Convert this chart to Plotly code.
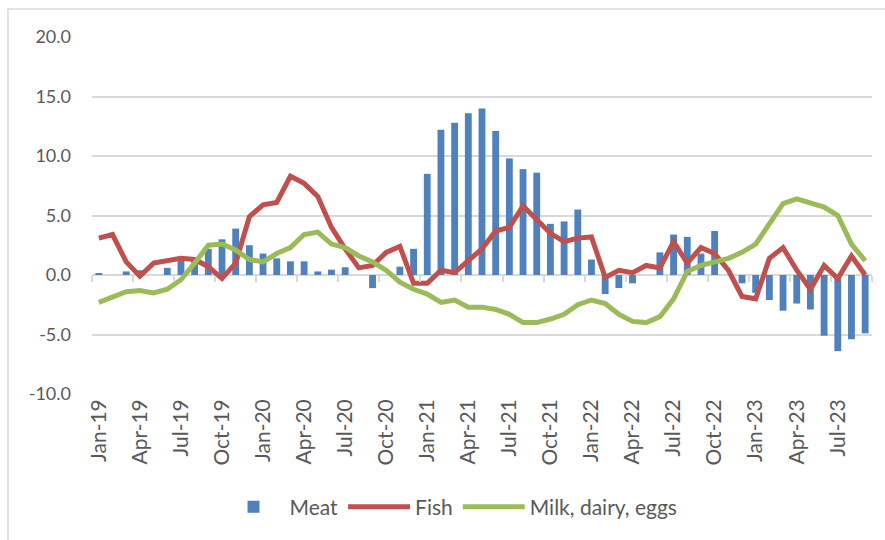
import plotly.graph_objects as go

months = [
    "Jan-19", "Feb-19", "Mar-19", "Apr-19", "May-19", "Jun-19", "Jul-19", "Aug-19", "Sep-19", "Oct-19", "Nov-19", "Dec-19",
    "Jan-20", "Feb-20", "Mar-20", "Apr-20", "May-20", "Jun-20", "Jul-20", "Aug-20", "Sep-20", "Oct-20", "Nov-20", "Dec-20",
    "Jan-21", "Feb-21", "Mar-21", "Apr-21", "May-21", "Jun-21", "Jul-21", "Aug-21", "Sep-21", "Oct-21", "Nov-21", "Dec-21",
    "Jan-22", "Feb-22", "Mar-22", "Apr-22", "May-22", "Jun-22", "Jul-22", "Aug-22", "Sep-22", "Oct-22", "Nov-22", "Dec-22",
    "Jan-23", "Feb-23", "Mar-23", "Apr-23", "May-23", "Jun-23", "Jul-23", "Aug-23", "Sep-23",
]

meat = [
    0.15, 0.0, 0.3, 0.4, 0.0, 0.6, 1.5, 1.5, 2.2, 3.0, 3.9, 2.5,
    1.8, 1.4, 1.15, 1.15, 0.3, 0.45, 0.65, 0.0, -1.1, 0.0, 0.7, 2.2,
    8.5, 12.2, 12.8, 13.6, 14.0, 12.1, 9.8, 8.9, 8.6, 4.3, 4.5, 5.5,
    1.3, -1.6, -1.1, -0.7, 0.0, 1.9, 3.4, 3.2, 1.8, 3.7, 0.0, -0.7,
    -1.5, -2.1, -3.0, -2.4, -2.9, -5.1, -6.4, -5.4, -4.9,
]

fish = [
    3.1, 3.4, 1.1, -0.1, 1.0, 1.2, 1.4, 1.3, 0.7, -0.3, 1.0, 4.9,
    5.9, 6.1, 8.3, 7.7, 6.6, 4.0, 2.2, 0.6, 0.8, 1.9, 2.4, -0.7,
    -0.7, 0.4, 0.2, 1.2, 2.2, 3.7, 4.0, 5.8, 4.6, 3.5, 2.8, 3.1,
    3.2, -0.2, 0.4, 0.2, 0.8, 0.6, 2.8, 1.0, 2.3, 1.8, 0.4, -1.8,
    -2.0, 1.4, 2.3, 0.4, -1.2, 0.8, -0.3, 1.6, 0.0,
]

milk = [
    -2.3, -1.9, -1.4, -1.3, -1.5, -1.2, -0.4, 1.0, 2.5, 2.6, 2.1, 1.3,
    1.1, 1.8, 2.3, 3.4, 3.6, 2.6, 2.3, 1.6, 1.1, 0.4, -0.6, -1.2,
    -1.6, -2.3, -2.1, -2.7, -2.7, -2.9, -3.3, -4.0, -4.0, -3.7, -3.3, -2.5,
    -2.1, -2.4, -3.3, -3.9, -4.0, -3.5, -2.0, 0.3, 0.8, 1.1, 1.4, 1.9,
    2.6, 4.3, 6.0, 6.4, 6.0, 5.7, 5.0, 2.6, 1.2,
]

y_tickvals = [-10, -5, 0, 5, 10, 15, 20]
y_ticktext = ["-10.0", "-5.0", "0.0", "5.0", "10.0", "15.0", "20.0"]

FONT = "Lato, 'Open Sans', sans-serif"
TXT = "#595959"
GRID = "#D9D9D9"

fig = go.Figure()
fig.add_trace(go.Bar(x=months, y=meat, name="Meat", marker_color="#4F81BD",
                     marker_line_width=0))
fig.add_trace(go.Scatter(x=months, y=fish, name="Fish", mode="lines",
                         line=dict(color="#C0504D", width=5)))
fig.add_trace(go.Scatter(x=months, y=milk, name="Milk, dairy, eggs", mode="lines",
                         line=dict(color="#9BBB59", width=5)))
# helper trace so the tick-mark axis on the zero line is drawn
fig.add_trace(go.Scatter(x=months, y=[None] * len(months), xaxis="x2", yaxis="y",
                         showlegend=False, hoverinfo="skip", mode="lines"))

fig.update_layout(
    width=885, height=540,
    margin=dict(l=92, r=13, t=37, b=146),
    paper_bgcolor="white", plot_bgcolor="white",
    font=dict(family=FONT, color=TXT, size=21),
    bargap=0.5,
    showlegend=True,
    legend=dict(orientation="h", x=0.459, xanchor="center", y=-0.317, yanchor="middle",
                font=dict(family=FONT, size=21, color=TXT), traceorder="normal",
                itemwidth=62),
    xaxis=dict(type="category", categoryorder="array", categoryarray=months,
               tickmode="linear", tick0=0, dtick=3, tickangle=-90,
               showgrid=False, ticks="", showline=False, zeroline=False,
               tickfont=dict(family=FONT, size=21, color=TXT)),
    xaxis2=dict(type="category", categoryorder="array", categoryarray=months,
                matches="x", overlaying="x", anchor="free", position=1/3,
                tickmode="linear", tick0=0, dtick=3, tickson="boundaries",
                ticks="outside", ticklen=6, tickcolor=GRID, tickwidth=1.5,
                showticklabels=False, showgrid=False, showline=False, zeroline=False),
    yaxis=dict(range=[-10, 20], tickmode="array", tickvals=y_tickvals, ticktext=y_ticktext,
               showgrid=True, gridcolor=GRID, gridwidth=1.5,
               zeroline=True, zerolinecolor=GRID, zerolinewidth=1.5,
               showline=False, ticks="", ticklabelstandoff=20,
               tickfont=dict(family=FONT, size=18, color=TXT)),
    shapes=[dict(type="rect", xref="paper", yref="paper",
                 x0=-0.1077, x1=1.2, y0=-0.6, y1=1.0784,
                 line=dict(color=GRID, width=1.5), fillcolor="rgba(0,0,0,0)", layer="below")],
)

fig.write_html("out.html", config={"displayModeBar": False},
               post_script="document.body.style.margin='0px';document.body.style.overflow='hidden';")
